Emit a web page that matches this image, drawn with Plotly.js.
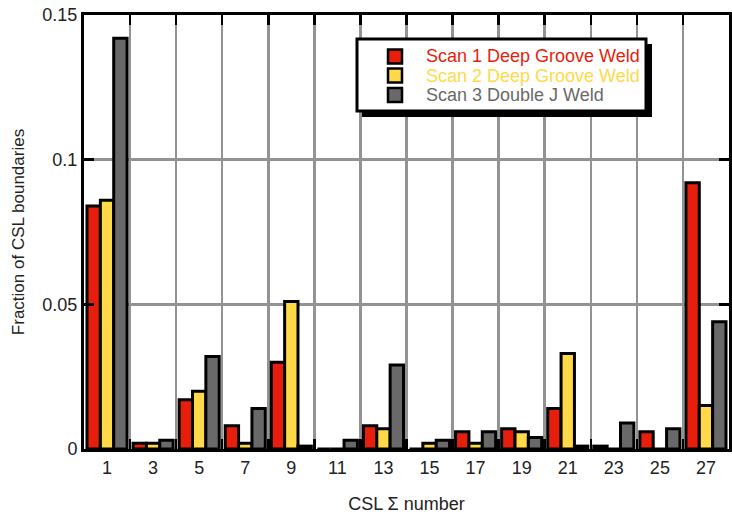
<!DOCTYPE html>
<html>
<head>
<meta charset="utf-8">
<script src="https://cdn.plot.ly/plotly-3.0.1.min.js"></script>
<style>html,body{margin:0;padding:0;background:#fff;}#chart{width:732px;height:514px;}</style>
</head>
<body>
<div id="chart"></div>
<script>
// ---- data ----
var categories = ['1','3','5','7','9','11','13','15','17','19','21','23','25','27'];
var scan1 = [0.084, 0.002, 0.017, 0.008, 0.030, 0.000, 0.008, 0.000, 0.006, 0.007, 0.014, 0.001, 0.006, 0.092];
var scan2 = [0.086, 0.002, 0.020, 0.002, 0.051, 0.000, 0.007, 0.002, 0.002, 0.006, 0.033, 0.000, 0.000, 0.015];
var scan3 = [0.142, 0.003, 0.032, 0.014, 0.001, 0.003, 0.029, 0.003, 0.006, 0.004, 0.001, 0.009, 0.007, 0.044];
var seriesNames = ['Scan 1 Deep Groove Weld', 'Scan 2 Deep Groove Weld', 'Scan 3 Double J Weld'];
var seriesColors = ['#e61e0b', '#ffd94a', '#696969'];
var yTickVals = [0, 0.05, 0.1, 0.15];
var yTickText = ['0', '0.05', '0.1', '0.15'];

var FONT = 'Liberation Sans, Arial, Helvetica, sans-serif';
var W = 732, H = 514, ML = 84, MR = 3, MT = 15, MB = 65;
var PW = W - ML - MR, PH = H - MT - MB;
function px(x) { return (x - ML) / PW; }
function py(y) { return (H - MB - y) / PH; }

var allSeries = [scan1, scan2, scan3];
var traces = allSeries.map(function (vals, i) {
  return {
    type: 'bar', x: categories, y: vals, name: seriesNames[i],
    marker: { color: seriesColors[i], line: { color: '#000', width: 3 } },
    showlegend: false, hoverinfo: 'x+y'
  };
});

// manual legend box (with drop shadow)
var shapes = [
  { type: 'rect', xref: 'paper', yref: 'paper', x0: px(362), x1: px(652), y0: py(44), y1: py(117),
    fillcolor: '#000', line: { width: 0 }, layer: 'above' },
  { type: 'rect', xref: 'paper', yref: 'paper', x0: px(357), x1: px(646), y0: py(39), y1: py(111),
    fillcolor: '#fff', line: { color: '#000', width: 3 }, layer: 'above' }
];
var annotations = [];
var rowY = [56.5, 75.5, 95];
seriesNames.forEach(function (n, i) {
  shapes.push({ type: 'rect', xref: 'paper', yref: 'paper',
    x0: px(388), x1: px(402), y0: py(rowY[i] - 7), y1: py(rowY[i] + 7),
    fillcolor: seriesColors[i], line: { color: '#000', width: 2.5 }, layer: 'above' });
  annotations.push({ xref: 'paper', yref: 'paper', x: px(424), y: py(rowY[i]),
    xanchor: 'left', yanchor: 'middle', showarrow: false, text: n,
    font: { family: FONT, size: 18, color: seriesColors[i] } });
});

var layout = {
  width: W, height: H,
  margin: { l: ML, r: MR, t: MT, b: MB },
  paper_bgcolor: '#fff', plot_bgcolor: '#fff',
  font: { family: FONT, size: 18, color: '#222' },
  barmode: 'group', bargap: 0.13, bargroupgap: 0,
  showlegend: false,
  xaxis: {
    type: 'category', tickson: 'boundaries', range: [-0.5, 13.5],
    showline: true, linecolor: '#000', linewidth: 3, mirror: 'ticks',
    ticks: 'inside', ticklen: 10, tickwidth: 2.5, tickcolor: '#000',
    showgrid: true, gridcolor: '#939393', gridwidth: 2.5,
    tickfont: { family: FONT, size: 18, color: '#222' },
    title: { text: 'CSL \u03A3 number', font: { family: FONT, size: 18, color: '#222' }, standoff: 22 },
    fixedrange: true
  },
  yaxis: {
    range: [0, 0.15], tickvals: yTickVals, ticktext: yTickText,
    showline: true, linecolor: '#000', linewidth: 3, mirror: 'ticks',
    ticks: 'inside', ticklen: 10, tickwidth: 2.5, tickcolor: '#000',
    showgrid: true, gridcolor: '#939393', gridwidth: 2.5, zeroline: false,
    tickfont: { family: FONT, size: 18, color: '#222' },
    title: { text: 'Fraction of CSL boundaries', font: { family: FONT, size: 17, color: '#222' }, standoff: 14 },
    fixedrange: true
  },
  shapes: shapes,
  annotations: annotations
};

Plotly.newPlot('chart', traces, layout, { displayModeBar: false, staticPlot: true });
</script>
</body>
</html>
